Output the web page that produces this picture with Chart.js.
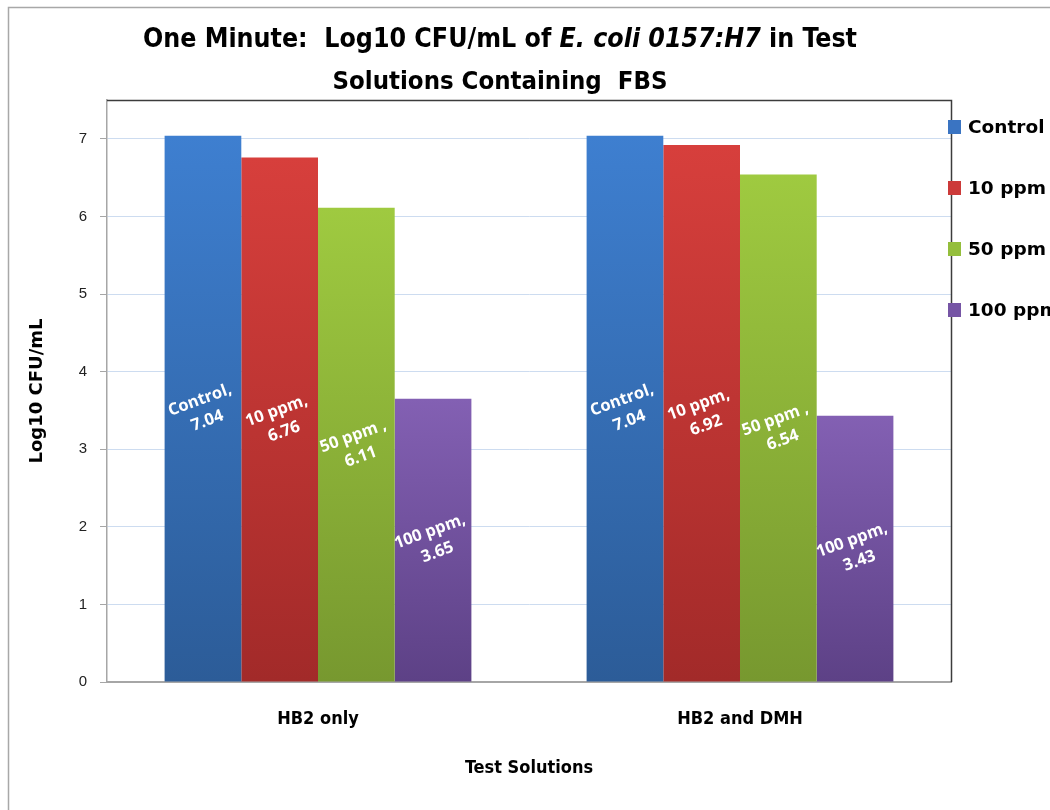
<!DOCTYPE html>
<html>
<head>
<meta charset="utf-8">
<script src="https://cdn.jsdelivr.net/npm/chart.js@4.4.1/dist/chart.umd.min.js"></script>
<style>
  html, body { margin: 0; padding: 0; background: #ffffff; overflow: hidden; }
  canvas { display: block; }
</style>
</head>
<body>
<canvas id="chart" width="1050" height="810"></canvas>
<script>
// Test solutions on the x axis
const categories = ['HB2 only', 'HB2 and DMH'];

// Series names (the 50 ppm name carries a trailing space, as in the labels)
const seriesNames = ['Control', '10 ppm', '50 ppm ', '100 ppm'];

// Log10 CFU/mL after one minute
const controlValues = [7.04, 7.04];
const ppm10Values   = [6.76, 6.92];
const ppm50Values   = [6.11, 6.54];
const ppm100Values  = [3.65, 3.43];

// Y axis tick labels
const yTicks = [0, 1, 2, 3, 4, 5, 6, 7];

const seriesValues = [controlValues, ppm10Values, ppm50Values, ppm100Values];

// top / bottom shades of each bar fill
const shades = [
  ['#3e7fd0', '#2c5c98'],
  ['#d73f3c', '#a22a29'],
  ['#9fca40', '#77982f'],
  ['#8360b3', '#5d4186']
];
const legendColors = ['#3a74c2', '#cc3a39', '#94be3c', '#7655a5'];

const narrow = "'Liberation Sans Narrow', 'Arial Narrow', 'DejaVu Sans Condensed', sans-serif";
const wide = "'DejaVu Sans', Verdana, sans-serif";

function barFill(i) {
  return (ctx) => {
    const chart = ctx.chart;
    const y = chart.scales && chart.scales.y;
    if (!chart.chartArea || !y || ctx.raw === undefined) return shades[i][0];
    const top = y.getPixelForValue(ctx.raw);
    const bottom = y.getPixelForValue(0);
    const g = chart.ctx.createLinearGradient(0, top, 0, bottom);
    g.addColorStop(0, shades[i][0]);
    g.addColorStop(1, shades[i][1]);
    return g;
  };
}

const datasets = seriesNames.map((name, i) => ({
  label: name,
  data: seriesValues[i],
  backgroundColor: barFill(i),
  borderWidth: 0,
  categoryPercentage: 0.727,
  barPercentage: 1.0
}));

// white background plus the outer chart frame
const framePlugin = {
  id: 'frame',
  beforeDraw(chart) {
    const c = chart.ctx;
    c.save();
    c.fillStyle = '#ffffff';
    c.fillRect(0, 0, chart.width, chart.height);
    c.restore();
  },
  afterDraw(chart) {
    const c = chart.ctx;
    c.save();
    c.strokeStyle = '#a8a8a8';
    c.lineWidth = 1.5;
    c.beginPath();
    c.moveTo(8.5, chart.height);
    c.lineTo(8.5, 7.5);
    c.lineTo(chart.width, 7.5);
    c.stroke();
    c.restore();
  }
};

// two-line title with the organism name in italics
const titlePlugin = {
  id: 'richTitle',
  afterDraw(chart) {
    const c = chart.ctx;
    const size = 26.5;
    const upright = `bold ${size}px ${narrow}`;
    const slanted = `italic bold ${size}px ${narrow}`;
    const lines = [
      [['One Minute:  Log10 CFU/mL of ', upright], ['E. coli 0157:H7', slanted], [' in Test', upright]],
      [['Solutions Containing  FBS', `bold 25.5px ${narrow}`]]
    ];
    const ys = [40, 82];
    const cx = 500;
    c.save();
    c.fillStyle = '#000000';
    c.textBaseline = 'middle';
    c.textAlign = 'left';
    lines.forEach((segs, li) => {
      let w = 0;
      segs.forEach(([t, f]) => { c.font = f; w += c.measureText(t).width; });
      let x = cx - w / 2;
      segs.forEach(([t, f]) => {
        c.font = f;
        c.fillText(t, x, ys[li]);
        x += c.measureText(t).width;
      });
    });
    c.restore();
  }
};

// dark top/right edge of the plot area, the legend and the rotated value labels
const plotPlugin = {
  id: 'plotExtras',
  afterDatasetsDraw(chart) {
    const c = chart.ctx;
    const a = chart.chartArea;
    c.save();
    // value labels
    c.fillStyle = '#ffffff';
    c.font = `bold 16.5px 'Open Sans', ${wide}`;
    c.textAlign = 'center';
    c.textBaseline = 'middle';
    chart.data.datasets.forEach((ds, di) => {
      const meta = chart.getDatasetMeta(di);
      meta.data.forEach((bar, j) => {
        const x = bar.x;
        const y = (bar.y + bar.base) / 2;
        c.save();
        c.translate(x, y);
        c.rotate(-20 * Math.PI / 180);
        c.fillText(ds.label + ',', 0, -9);
        c.fillText(ds.data[j].toFixed(2), 0, 13);
        c.restore();
      });
    });
    // plot area edge
    c.strokeStyle = '#3c3c3c';
    c.lineWidth = 1.5;
    c.beginPath();
    c.moveTo(a.left, a.top + 0.5);
    c.lineTo(a.right + 0.5, a.top + 0.5);
    c.lineTo(a.right + 0.5, a.bottom);
    c.stroke();
    // legend
    c.font = `bold 18.5px ${wide}`;
    c.textAlign = 'left';
    c.textBaseline = 'middle';
    chart.data.datasets.forEach((ds, i) => {
      const y = a.top + 27 + i * 61;
      c.fillStyle = legendColors[i];
      c.fillRect(a.right - 3, y - 7, 13, 14);
      c.fillStyle = '#000000';
      c.fillText(ds.label.trim(), a.right + 17, y + 1);
    });
    c.restore();
  }
};

new Chart(document.getElementById('chart'), {
  type: 'bar',
  data: { labels: categories, datasets },
  plugins: [framePlugin, titlePlugin, plotPlugin],
  options: {
    responsive: false,
    animation: false,
    devicePixelRatio: 1,
    layout: { padding: { top: 100, right: 99, left: 0, bottom: 0 } },
    plugins: {
      legend: { display: false },
      title: { display: false },
      tooltip: { enabled: false }
    },
    scales: {
      x: {
        afterFit(scale) { scale.height = 128; },
        grid: { display: false, drawTicks: false },
        border: { color: '#a6a6a6', width: 2 },
        ticks: {
          padding: 27,
          color: '#000000',
          font: { family: narrow, size: 18, weight: 'bold' }
        },
        title: {
          display: true,
          text: 'Test Solutions',
          color: '#000000',
          font: { family: narrow, size: 18, weight: 'bold' },
          padding: { bottom: 31 }
        }
      },
      y: {
        min: 0,
        max: 7.5,
        afterFit(scale) { scale.width = 107; },
        afterBuildTicks(scale) { scale.ticks = yTicks.map(v => ({ value: v })); },
        grid: {
          color: '#cddcf0',
          lineWidth: 1,
          tickLength: 7,
          tickColor: '#a6a6a6'
        },
        border: { color: '#a6a6a6', width: 1.5 },
        ticks: {
          padding: 13,
          color: '#222222',
          font: { family: "'Liberation Sans', Arial, sans-serif", size: 15 }
        },
        title: {
          display: true,
          text: 'Log10 CFU/mL',
          color: '#000000',
          font: { family: wide, size: 18, weight: 'bold' },
          padding: { top: 27 }
        }
      }
    }
  }
});
</script>
</body>
</html>
